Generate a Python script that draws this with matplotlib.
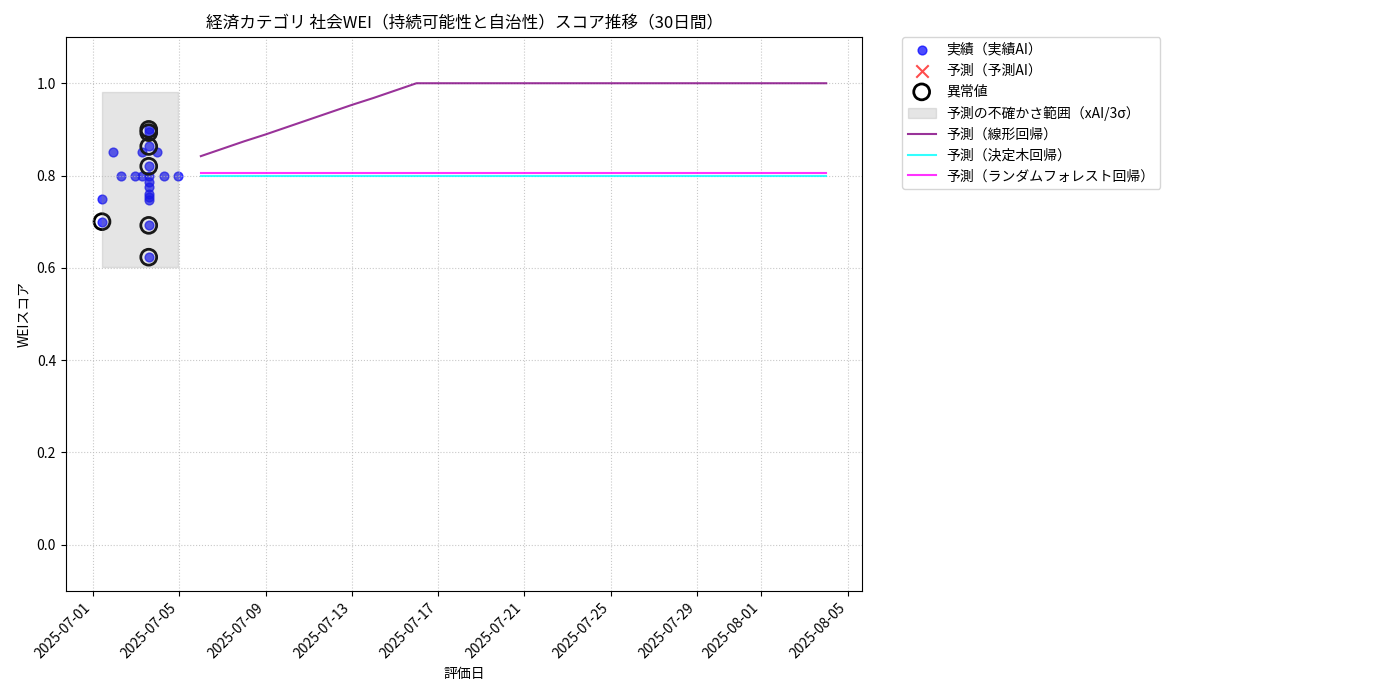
import matplotlib
matplotlib.use("Agg")
import matplotlib.pyplot as plt
import matplotlib.dates as mdates
from datetime import datetime

plt.rcParams['font.family'] = ['Noto Sans CJK JP', 'DejaVu Sans']

# 実績データ
actual_dates = [
    "2025-07-01 10:00", "2025-07-01 10:00", "2025-07-01 22:00", "2025-07-02 07:00",
    "2025-07-02 22:30", "2025-07-03 06:30", "2025-07-03 06:30",
    "2025-07-03 14:00", "2025-07-03 14:00", "2025-07-03 14:00", "2025-07-03 14:00",
    "2025-07-03 14:00", "2025-07-03 14:00", "2025-07-03 14:00", "2025-07-03 14:00",
    "2025-07-03 14:00", "2025-07-03 14:00", "2025-07-03 14:00", "2025-07-03 14:00",
    "2025-07-03 23:00", "2025-07-04 07:00", "2025-07-04 22:30",
]
actual_scores = [
    0.75, 0.70, 0.85, 0.80,
    0.80, 0.85, 0.80,
    0.90, 0.895, 0.863, 0.82,
    0.80, 0.786, 0.775, 0.761,
    0.754, 0.746, 0.692, 0.623,
    0.85, 0.80, 0.80,
]

# 異常値
outlier_dates = ["2025-07-01 10:00", "2025-07-03 14:00", "2025-07-03 14:00",
                 "2025-07-03 14:00", "2025-07-03 14:00", "2025-07-03 14:00",
                 "2025-07-03 14:00"]
outlier_scores = [0.70, 0.90, 0.893, 0.863, 0.82, 0.692, 0.623]

# 不確かさ範囲
band_lower = 0.602
band_upper = 0.981

# 予測（30日間）
forecast_dates = ["2025-07-%02d" % d for d in range(6, 32)] + \
                 ["2025-08-01", "2025-08-02", "2025-08-03", "2025-08-04"]
linear_pred = [0.842, 0.858, 0.874, 0.889, 0.905, 0.921, 0.937, 0.953, 0.968, 0.984,
               1.0, 1.0, 1.0, 1.0, 1.0, 1.0, 1.0, 1.0, 1.0, 1.0,
               1.0, 1.0, 1.0, 1.0, 1.0, 1.0, 1.0, 1.0, 1.0, 1.0]
tree_pred = [0.80] * 30
forest_pred = [0.806] * 30

to_dt = lambda s: datetime.strptime(s, "%Y-%m-%d %H:%M") if " " in s else datetime.strptime(s, "%Y-%m-%d")
a_dt = [to_dt(s) for s in actual_dates]
o_dt = [to_dt(s) for s in outlier_dates]
f_dt = [to_dt(s) for s in forecast_dates]

fig = plt.figure(figsize=(14, 7), dpi=100)
ax = fig.add_axes([0.047, 0.156, 0.569, 0.791])

ax.scatter(a_dt, actual_scores, color='blue', alpha=0.7, s=40, label='実績（実績AI）')
ax.scatter([], [], color='red', marker='x', alpha=0.7, s=80, label='予測（予測AI）')
ax.scatter(o_dt, outlier_scores, facecolors='none', edgecolors='black', s=130,
           linewidths=2, label='異常値')
band_x = [min(a_dt), max(a_dt)]
ax.fill_between(band_x, [band_lower] * 2, [band_upper] * 2, color='gray', alpha=0.2,
                label='予測の不確かさ範囲（xAI/3σ）')
ax.plot(f_dt, linear_pred, color='purple', alpha=0.8, lw=1.5, label='予測（線形回帰）')
ax.plot(f_dt, tree_pred, color='cyan', alpha=0.8, lw=1.5, label='予測（決定木回帰）')
ax.plot(f_dt, forest_pred, color='magenta', alpha=0.8, lw=1.5, label='予測（ランダムフォレスト回帰）')

ax.set_ylim(-0.1, 1.1)
ax.xaxis.set_major_locator(mdates.DayLocator(bymonthday=[1, 5, 9, 13, 17, 21, 25, 29]))
ax.xaxis.set_major_formatter(mdates.DateFormatter('%Y-%m-%d'))
plt.setp(ax.get_xticklabels(), rotation=45, ha='right')
ax.grid(True, linestyle=':', color='#bbbbbb', alpha=0.8)

ax.set_title('経済カテゴリ 社会WEI（持続可能性と自治性）スコア推移（30日間）', fontsize=12)
ax.set_xlabel('評価日')
ax.set_ylabel('WEIスコア')
ax.legend(loc='upper left', bbox_to_anchor=(1.05, 1), borderaxespad=0.)

fig.savefig('out.png', dpi=100)
